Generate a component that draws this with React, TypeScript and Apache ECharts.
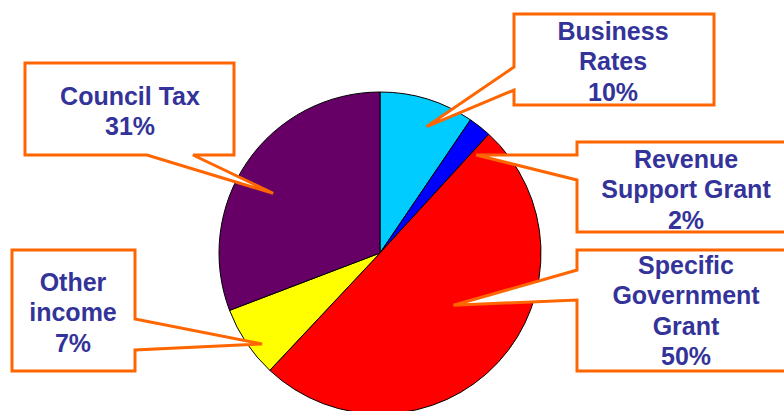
import React, { useEffect, useRef } from "react";
import * as echarts from "echarts";

const categories = ["Business Rates", "Revenue Support Grant", "Specific Government Grant", "Other income", "Council Tax"];
const values = [9.5, 2.3, 50.2, 7.2, 30.8];
const sliceColors = ["#00CCFF", "#0000FF", "#FF0000", "#FFFF00", "#660066"];
// label line-splitting of each category as shown in the callouts
const labelLines = [["Business", "Rates"], ["Revenue", "Support Grant"], ["Specific", "Government", "Grant"], ["Other", "income"], ["Council Tax"]];

const CX = 380, CY = 253, R = 161;

// callout layout: box rect, pointer base points, tip placement relative to slice mid-angle
const callouts = [
  { box: [514, 14, 714, 105], side: "left", base: [67, 90], tipDA: 3.2, tipR: 0.837, tx: 613, ty0: 31 },
  { box: [577, 142, 800, 232], side: "left", base: [155, 180], tipDA: 6.1, tipR: 0.853, tx: 686, ty0: 159 },
  { box: [577, 250, 800, 371], side: "left", base: [270, 300], tipDA: -7.4, tipR: 0.56, tx: 686, ty0: 265 },
  { box: [12, 250, 135, 371], side: "right", base: [319, 350], tipDA: -3.8, tipR: 0.925, tx: 73, ty0: 282 },
  { box: [25, 63, 234, 155], side: "bottom", base: [147, 193], tipDA: -5.4, tipR: 0.76, tx: 130, ty0: 96 },
];

export default function App() {
  const ref = useRef<HTMLDivElement>(null);
  useEffect(() => {
    document.body.style.margin = "0";
    const chart = echarts.init(ref.current!, null, { renderer: "svg" });
    const total = values.reduce((a, b) => a + b, 0);
    let acc = 0;
    const graphics: any[] = [];
    values.forEach((v, i) => {
      const mid = ((acc + v / 2) / total) * 360;
      acc += v;
      const c = callouts[i];
      const ang = ((mid + c.tipDA) * Math.PI) / 180;
      const tip = [CX + Math.sin(ang) * R * c.tipR, CY - Math.cos(ang) * R * c.tipR];
      const [x1, y1, x2, y2] = c.box;
      let pts: number[][];
      if (c.side === "left") {
        pts = [[x1, y1], [x2, y1], [x2, y2], [x1, y2], [x1, c.base[1]], tip, [x1, c.base[0]]];
      } else if (c.side === "right") {
        pts = [[x1, y1], [x2, y1], [x2, c.base[0]], tip, [x2, c.base[1]], [x2, y2], [x1, y2]];
      } else {
        pts = [[x1, y1], [x2, y1], [x2, y2], [c.base[1], y2], tip, [c.base[0], y2], [x1, y2]];
      }
      graphics.push({
        type: "polygon",
        shape: { points: pts },
        style: { fill: "#FFFFFF", stroke: "#FF6600", lineWidth: 3, lineJoin: "miter" },
        z: 10,
      });
      const lines = [...labelLines[i], Math.round((v / total) * 100) + "%"];
      lines.forEach((t, k) => {
        graphics.push({
          type: "text",
          x: c.tx,
          y: c.ty0 + k * 30.3,
          z: 11,
          style: {
            text: t,
            fill: "#333399",
            font: "bold 25px 'Liberation Sans', Arial, sans-serif",
            align: "center",
            verticalAlign: "middle",
          },
        });
      });
    });
    chart.setOption({
      animation: false,
      backgroundColor: "#FFFFFF",
      series: [
        {
          type: "pie",
          center: [CX, CY],
          radius: R,
          startAngle: 90,
          clockwise: true,
          label: { show: false },
          labelLine: { show: false },
          silent: true,
          itemStyle: { borderColor: "#000000", borderWidth: 1 },
          data: categories.map((name, i) => ({ name, value: values[i], itemStyle: { color: sliceColors[i] } })),
        },
      ],
      graphic: graphics,
    });
    return () => chart.dispose();
  }, []);
  return <div ref={ref} style={{ width: 784, height: 411 }} />;
}
